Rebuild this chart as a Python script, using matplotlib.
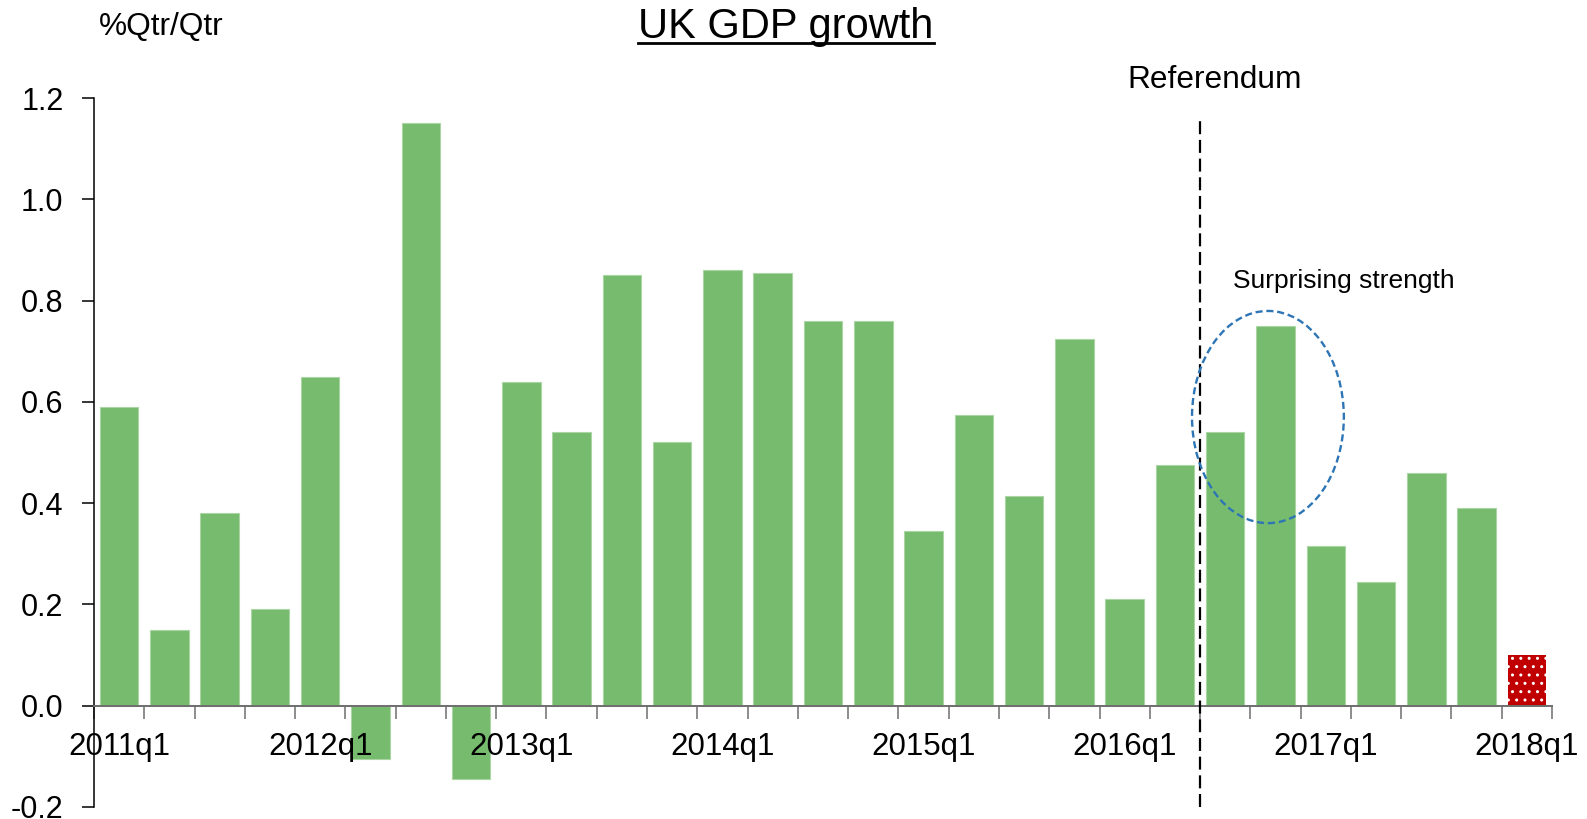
import matplotlib
matplotlib.use("Agg")
import matplotlib.pyplot as plt
from matplotlib.patches import Ellipse
from matplotlib.lines import Line2D
import numpy as np

# ── Data: UK quarterly GDP growth, % q/q ─────────────────────────────────────
quarters = [f"{y}q{q}" for y in range(2011, 2018) for q in range(1, 5)] + ["2018q1"]
growth = [0.59, 0.15, 0.38, 0.19,
          0.65, -0.105, 1.15, -0.145,
          0.64, 0.54, 0.85, 0.52,
          0.86, 0.855, 0.76, 0.76,
          0.345, 0.575, 0.415, 0.725,
          0.21, 0.475, 0.54, 0.75,
          0.315, 0.245, 0.46, 0.39]
latest = 0.1          # 2018q1 preliminary estimate
labelled = ["2011q1", "2012q1", "2013q1", "2014q1", "2015q1", "2016q1", "2017q1", "2018q1"]
yticks = [-0.2, 0.0, 0.2, 0.4, 0.6, 0.8, 1.0, 1.2]

GREEN = "#77BB6F"
EDGE = "#A9D6A3"
RED = "#C00000"
BLUE = "#2E75B6"
FONT = "Liberation Sans"

plt.rcParams["font.family"] = FONT
plt.rcParams["hatch.color"] = "white"
plt.rcParams["hatch.linewidth"] = 1.0

fig = plt.figure(figsize=(15.87, 8.19), dpi=100)
ax = fig.add_axes([94 / 1587, 1 - 807 / 819, 1458 / 1587, 709 / 819])

x = np.arange(len(quarters))
# bars sit under the tick labels (axis zorder 1.5)
ax.bar(x[:-1], growth, width=0.765, color=GREEN, edgecolor=EDGE, lw=0.8, zorder=1)
ax.bar(x[-1], latest, width=0.765, color=RED, edgecolor="white", lw=0,
       hatch="..", zorder=1)

ax.set_xlim(-0.5, len(quarters) - 0.5)
ax.set_ylim(-0.2, 1.2)

# spines: y on the left, x axis through zero
for s in ("top", "right"):
    ax.spines[s].set_visible(False)
ax.spines["left"].set_color("black")
ax.spines["left"].set_linewidth(1.1)
ax.spines["bottom"].set_position(("data", 0))
ax.spines["bottom"].set_color("#6E6E6E")
ax.spines["bottom"].set_linewidth(1.4)

ax.set_yticks(yticks)
ax.set_yticklabels([f"{v:.1f}" for v in yticks])
ax.tick_params(axis="y", direction="out", length=9, width=1.1, pad=13,
               labelsize=22, colors="black")

# year labels on bar centres, tick marks on category boundaries
ax.set_xticks([quarters.index(q) for q in labelled])
ax.set_xticklabels(labelled)
ax.tick_params(axis="x", which="major", length=0, pad=19, labelsize=22.5)
ax.set_xticks(np.arange(-0.5, len(quarters)), minor=True)
ax.tick_params(axis="x", which="minor", direction="out", length=9, width=1.1,
               color="#6E6E6E")

# referendum marker
ax.plot([21.5, 21.5], [-0.2, 1.162], color="black", lw=1.6,
        dashes=(5.85, 2.56), zorder=3, clip_on=False)
ax.text(20.06, 1.2196, "Referendum", fontsize=22.8, va="baseline", ha="left",
        clip_on=False)

# highlight post-referendum quarters
ax.add_patch(Ellipse((22.85, 0.570), 3.02, 0.419, fill=False, edgecolor=BLUE,
                     lw=1.7, linestyle=(0, (3, 1.6)), zorder=4))
ax.text(22.15, 0.8246, "Surprising strength", fontsize=19, va="baseline", ha="left")

# title with underline, units label
title = fig.text(786 / 1587, 1 - 38 / 819, "UK GDP growth", fontsize=30,
                 ha="center", va="baseline")
fig.text(99 / 1587, 1 - 35 / 819, "%Qtr/Qtr", fontsize=22.8, ha="left", va="baseline")

fig.canvas.draw()
bb = title.get_window_extent(fig.canvas.get_renderer())
uy = 1 - 42.5 / 819
fig.add_artist(Line2D([bb.x0 / fig.bbox.width, bb.x1 / fig.bbox.width], [uy, uy],
                      color="black", lw=2, transform=fig.transFigure))

fig.savefig("out.png", dpi=100)
